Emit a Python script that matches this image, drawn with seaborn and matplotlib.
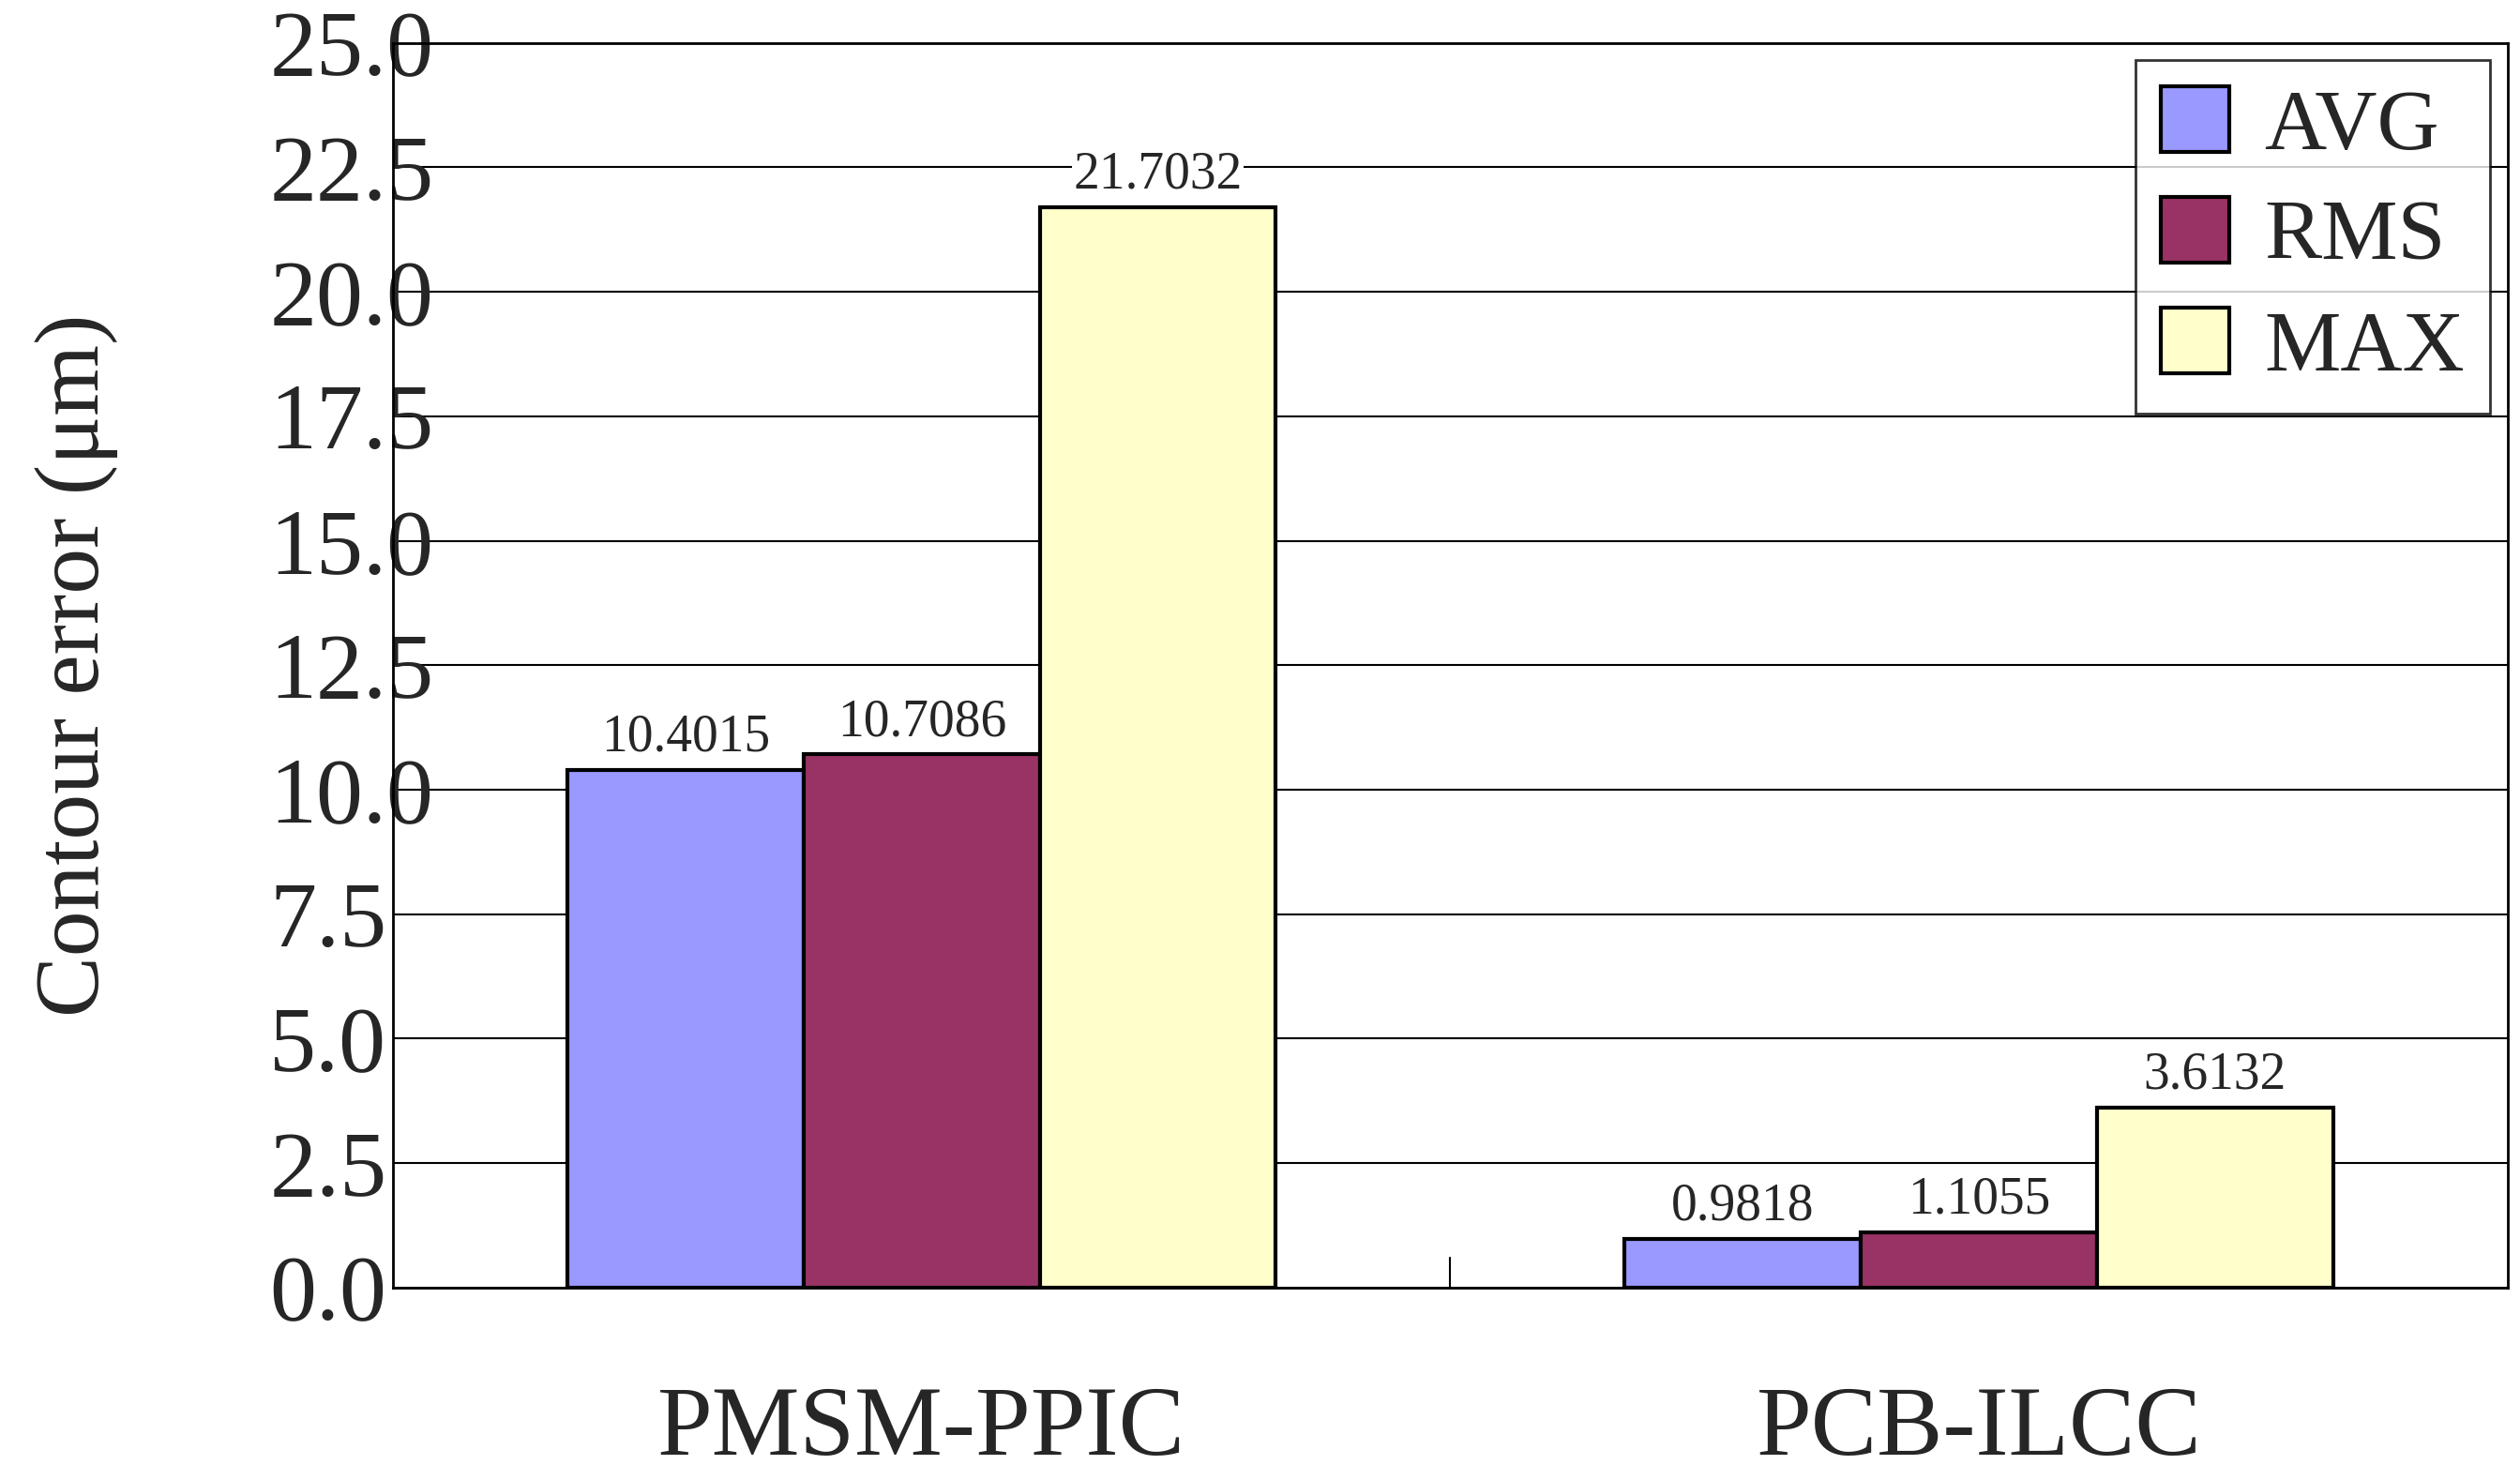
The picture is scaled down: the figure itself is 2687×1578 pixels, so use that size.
import matplotlib
matplotlib.use("Agg")
import matplotlib.pyplot as plt
import seaborn as sns
import pandas as pd

categories = ["PMSM-PPIC", "PCB-ILCC"]
series = ["AVG", "RMS", "MAX"]
avg = [10.4015, 0.9818]
rms = [10.7086, 1.1055]
mx = [21.7032, 3.6132]
labels = {"AVG": ["10.4015", "0.9818"], "RMS": ["10.7086", "1.1055"], "MAX": ["21.7032", "3.6132"]}

df = pd.DataFrame({
    "cat": categories * 3,
    "series": ["AVG"] * 2 + ["RMS"] * 2 + ["MAX"] * 2,
    "val": avg + rms + mx,
})

sns.set_style("white")
plt.rcParams['font.family'] = ['Liberation Serif', 'DejaVu Serif']

fig = plt.figure(figsize=(26.87, 15.78), dpi=100)
ax = fig.add_axes([0.156, 0.130, 0.839, 0.841])
palette = {"AVG": "#9999FF", "RMS": "#993366", "MAX": "#FFFFCC"}
sns.barplot(data=df, x="cat", y="val", hue="series", palette=palette, width=0.67,
            edgecolor="black", linewidth=3, saturation=1, ax=ax, zorder=3)
ax.set_ylim(0, 25)
ax.set_yticks([i * 2.5 for i in range(11)])
ax.set_yticklabels([f"{i*2.5:.1f}" for i in range(11)], fontsize=72)
ax.set_xlim(-0.5, 1.5)
ax.tick_params(axis='x', labelsize=76, pad=75, length=0)
ax.tick_params(axis='y', pad=95, length=0)
for t in ax.get_yticklabels():
    t.set_horizontalalignment("left")
ax.set_xlabel("")
ax.set_ylabel("Contour error (μm)", fontsize=70, labelpad=20)
ax.yaxis.set_label_coords(-0.13, 0.5)
ax.yaxis.grid(True, color="black", linewidth=1.5, zorder=0)
ax.set_axisbelow(True)
for s in ax.spines.values():
    s.set_color("black"); s.set_linewidth(2)
ax.plot([0.5, 0.5], [0, 0.6], color="black", linewidth=1.5, zorder=4)
for cont, name in zip(ax.containers, series):
    ax.bar_label(cont, labels=labels[name], fontsize=40, padding=6,
                 bbox=dict(facecolor="white", edgecolor="none", pad=1))
leg = ax.legend(loc="upper right", fontsize=66, frameon=True, fancybox=False,
                edgecolor="black", handlelength=0.8, handleheight=0.8,
                borderaxespad=0.2, labelspacing=0.35, handletextpad=0.4,
                borderpad=0.3)
leg.get_frame().set_linewidth(2)
for h in leg.legend_handles:
    h.set_edgecolor("black"); h.set_linewidth(3)
fig.savefig("out.png", dpi=100)
